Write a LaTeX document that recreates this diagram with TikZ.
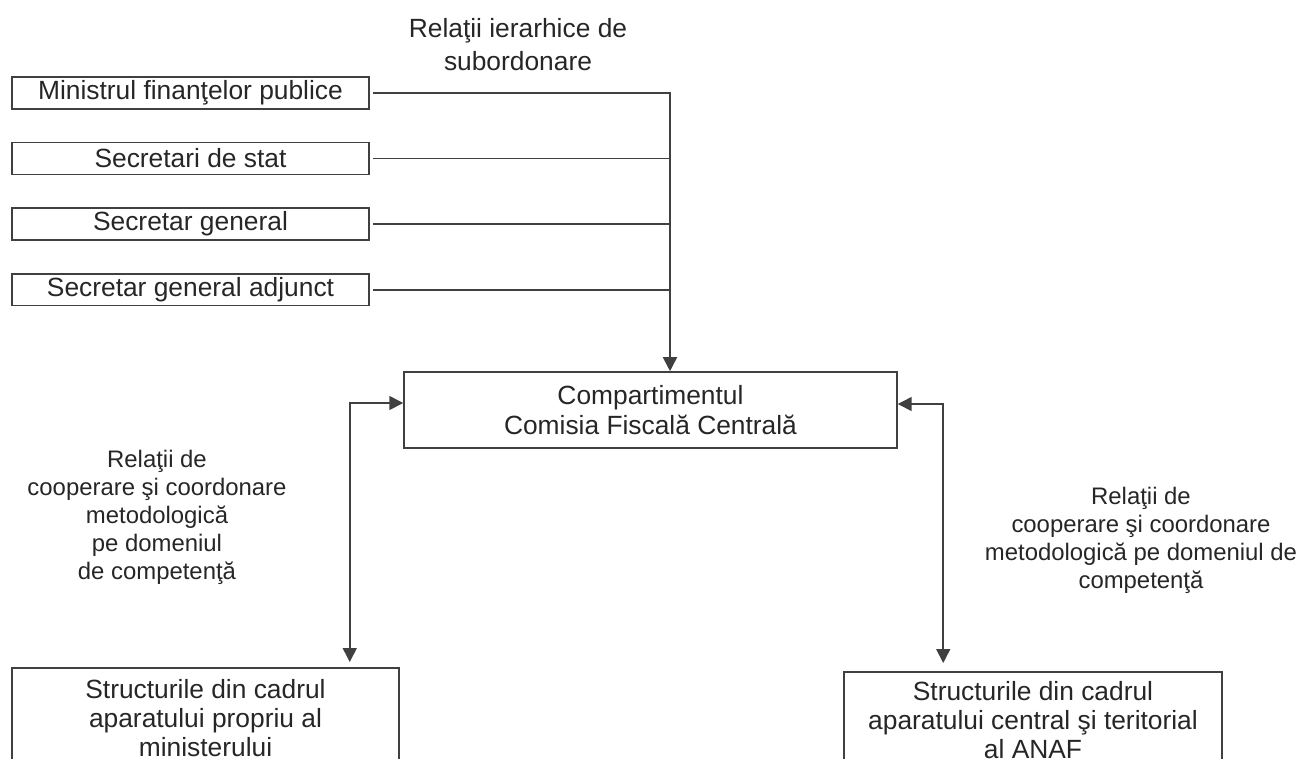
\documentclass[tikz,border=0pt]{standalone}
\usepackage{fontspec}
\setmainfont{Liberation Sans}
\usetikzlibrary{arrows.meta, positioning}

\begin{document}
\begin{tikzpicture}[
  x=0.02cm, y=-0.02cm,
  >={Triangle[length=0.28cm, width=0.28cm]},
  line width=0.9pt, draw=black!75, text=black!85,
  box/.style    = {draw, rectangle, inner sep=0pt, align=center, font=\fontsize{15}{17}\selectfont},
  topbox/.style = {box, minimum width=7.14cm, minimum height=0.64cm},
  basebox/.style= {box, anchor=north, font=\fontsize{15}{16.5}\selectfont},
  lbl/.style    = {align=center, font=\fontsize{13.6}{15.9}\selectfont},
]
  \clip (0,0) rectangle (1299,758);

  % conducerea ministerului
  \node[topbox]                    (min) at (190.5,93) {Ministrul finanţelor publice};
  \node[topbox, below=0.64cm of min] (sst) {Secretari de stat};
  \node[topbox, below=0.64cm of sst] (sg)  {Secretar general};
  \node[topbox, below=0.64cm of sg]  (sga) {Secretar general adjunct};

  \node[box, minimum width=9.86cm, minimum height=1.52cm]
                                    (cfc) at (650.5,410) {Compartimentul\\Comisia Fiscală Centrală};

  % structuri subordonate, taiate jos
  \node[basebox, minimum width=7.74cm, minimum height=2cm]
                                    (lb) at (205.5,667) {Structurile din cadrul\\aparatului propriu al\\ministerului};
  \node[basebox, minimum width=7.56cm, minimum height=1.92cm]
                                    (rb) at (1033,671) {Structurile din cadrul\\aparatului central şi teritorial\\al ANAF};

  \node[lbl, font=\fontsize{15}{18.7}\selectfont] (hier) at (518,45) {Relaţii ierarhice de\\subordonare};
  \node[lbl] (coopl) at (157,517) {Relaţii de\\cooperare şi coordonare\\metodologică\\pe domeniul\\de competenţă};
  \node[lbl] (coopr) at (1141,540) {Relaţii de\\cooperare şi coordonare\\metodologică pe domeniul de\\competenţă};

  \coordinate (bus) at (670,93);
  \draw[->, shorten <=0.06cm] (min.east) -| (bus |- cfc.north);
  \foreach \n in {sst,sg,sga}
    \draw[shorten <=0.06cm] (\n.east) -- (bus |- \n.east);

  \draw[<->, shorten <=0.1cm]  ([xshift=-1cm]lb.north east) |- ([yshift=0.14cm]cfc.west);
  \draw[<->, shorten <=0.16cm] ([xshift=2cm]rb.north west)  |- ([yshift=0.12cm]cfc.east);
\end{tikzpicture}
\end{document}
